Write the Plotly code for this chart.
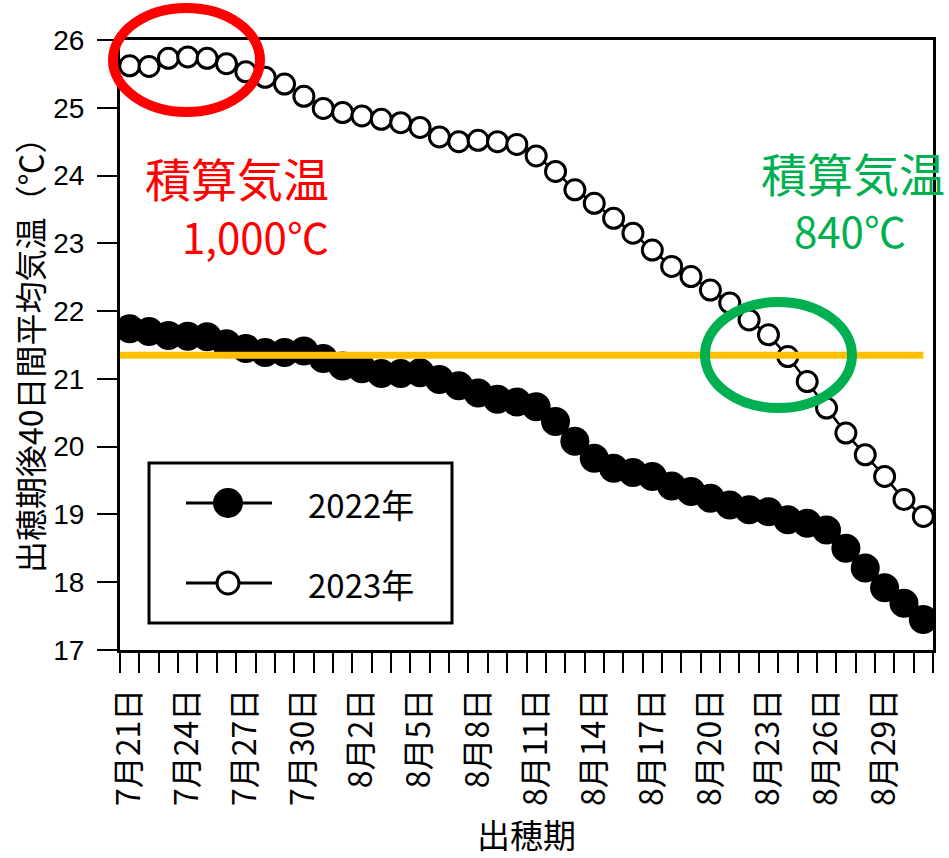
import plotly.graph_objects as go

# ---------------- data ----------------
dates = ["7月21日", "7月22日", "7月23日", "7月24日", "7月25日", "7月26日", "7月27日",
         "7月28日", "7月29日", "7月30日", "7月31日", "8月1日", "8月2日", "8月3日",
         "8月4日", "8月5日", "8月6日", "8月7日", "8月8日", "8月9日", "8月10日",
         "8月11日", "8月12日", "8月13日", "8月14日", "8月15日", "8月16日", "8月17日",
         "8月18日", "8月19日", "8月20日", "8月21日", "8月22日", "8月23日", "8月24日",
         "8月25日", "8月26日", "8月27日", "8月28日", "8月29日", "8月30日", "8月31日"]

tick_labels = ["7月21日", "7月24日", "7月27日", "7月30日", "8月2日", "8月5日", "8月8日",
               "8月11日", "8月14日", "8月17日", "8月20日", "8月23日", "8月26日", "8月29日"]

temp_2022 = [21.74, 21.70, 21.64, 21.63, 21.62, 21.52, 21.45, 21.39, 21.39, 21.41,
             21.30, 21.19, 21.15, 21.08, 21.08, 21.09, 20.99, 20.90, 20.79, 20.70,
             20.66, 20.59, 20.37, 20.08, 19.83, 19.68, 19.62, 19.56, 19.42, 19.34,
             19.24, 19.14, 19.07, 19.04, 18.92, 18.87, 18.77, 18.50, 18.21, 17.92,
             17.69, 17.45]

temp_2023 = [25.62, 25.61, 25.73, 25.75, 25.73, 25.65, 25.53, 25.45, 25.35, 25.17,
             24.99, 24.93, 24.88, 24.83, 24.78, 24.71, 24.57, 24.50, 24.52, 24.50,
             24.46, 24.29, 24.06, 23.79, 23.59, 23.37, 23.15, 22.90, 22.66, 22.51,
             22.31, 22.12, 21.87, 21.65, 21.33, 20.96, 20.57, 20.20, 19.88, 19.56,
             19.22, 18.97]

series_names = ["2022年", "2023年"]
threshold = 21.35
y_ticks = [17, 18, 19, 20, 21, 22, 23, 24, 25, 26]

x_title = "出穂期"
y_title = "出穂期後40日間平均気温（℃）"
note_label = "積算気温"
note_red = "1,000℃"
note_green = "840℃"

# ---------------- layout geometry ----------------
W, H = 949, 858
ML, MR, MT, MB = 120, 16, 40, 208
PW = W - ML - MR
PH = H - MT - MB
JP = "Noto Sans CJK JP"


def px(x):
    return (x - ML) / PW


def py(y):
    return (H - MB - y) / PH


fig = go.Figure()

fig.add_trace(go.Scatter(
    x=dates, y=temp_2022, name=series_names[0], mode="lines+markers",
    line=dict(color="black", width=3),
    marker=dict(size=29, color="black", line=dict(width=0)),
    showlegend=False,
))
fig.add_trace(go.Scatter(
    x=dates, y=temp_2023, name=series_names[1], mode="lines+markers",
    line=dict(color="black", width=2.5),
    marker=dict(size=20, color="white", line=dict(color="black", width=3)),
    showlegend=False,
))

ticktext = [d if d in tick_labels else "" for d in dates]

shapes = [
    # threshold line
    dict(type="line", xref="x", yref="y", x0=-0.5, x1=len(dates) - 1,
         y0=threshold, y1=threshold, line=dict(color="#FFC000", width=7), layer="above"),
    # red ellipse
    dict(type="circle", xref="paper", yref="paper",
         x0=px(113), x1=px(260), y0=py(112), y1=py(8),
         line=dict(color="#FF0000", width=10), layer="above"),
    # green ellipse
    dict(type="circle", xref="paper", yref="paper",
         x0=px(705), x1=px(852), y0=py(408), y1=py(302),
         line=dict(color="#00B050", width=10), layer="above"),
    # legend box
    dict(type="rect", xref="paper", yref="paper",
         x0=px(149), x1=px(452), y0=py(623), y1=py(463),
         line=dict(color="black", width=3), fillcolor="white", layer="above"),
    dict(type="line", xref="paper", yref="paper",
         x0=px(186), x1=px(272), y0=py(503), y1=py(503),
         line=dict(color="black", width=3), layer="above"),
    dict(type="line", xref="paper", yref="paper",
         x0=px(186), x1=px(272), y0=py(583), y1=py(583),
         line=dict(color="black", width=3), layer="above"),
    dict(type="circle", xref="paper", yref="paper",
         x0=px(213), x1=px(243), y0=py(518), y1=py(488),
         line=dict(color="black", width=0), fillcolor="black", layer="above"),
    dict(type="circle", xref="paper", yref="paper",
         x0=px(217), x1=px(239), y0=py(594), y1=py(572),
         line=dict(color="black", width=3), fillcolor="white", layer="above"),
]

annotations = [
    dict(text=y_title, xref="paper", yref="paper", x=px(29), y=py(347),
         xanchor="center", yanchor="middle", textangle=-90, showarrow=False,
         font=dict(family=JP, size=32, color="black")),
    dict(text=note_label, xref="paper", yref="paper", x=px(331), y=py(177),
         xanchor="right", yanchor="middle", showarrow=False,
         font=dict(family=JP, size=46, color="#FF0000")),
    dict(text=note_red, xref="paper", yref="paper", x=px(331), y=py(235),
         xanchor="right", yanchor="middle", showarrow=False,
         font=dict(family=JP, size=42, color="#FF0000")),
    dict(text=note_label, xref="paper", yref="paper", x=px(853), y=py(172),
         xanchor="center", yanchor="middle", showarrow=False,
         font=dict(family=JP, size=46, color="#00B050")),
    dict(text=note_green, xref="paper", yref="paper", x=px(850), y=py(229),
         xanchor="center", yanchor="middle", showarrow=False,
         font=dict(family=JP, size=42, color="#00B050")),
    dict(text=series_names[0], xref="paper", yref="paper", x=px(306), y=py(504),
         xanchor="left", yanchor="middle", showarrow=False,
         font=dict(family=JP, size=33, color="black")),
    dict(text=series_names[1], xref="paper", yref="paper", x=px(306), y=py(584),
         xanchor="left", yanchor="middle", showarrow=False,
         font=dict(family=JP, size=33, color="black")),
]

fig.update_layout(
    width=W, height=H,
    margin=dict(l=ML, r=MR, t=MT, b=MB, autoexpand=False),
    paper_bgcolor="white", plot_bgcolor="white",
    showlegend=False,
    shapes=shapes, annotations=annotations,
    xaxis=dict(
        type="category", range=[-0.5, len(dates) - 0.5],
        tickmode="array", tickvals=dates, ticktext=ticktext,
        tickson="boundaries", ticks="outside", ticklen=20, tickwidth=2, tickcolor="black",
        tickangle=-90, ticklabelstandoff=23,
        tickfont=dict(family=JP, size=32, color="black"),
        showline=True, linewidth=3, linecolor="black", mirror=True,
        showgrid=False, zeroline=False, automargin=False,
        title=dict(text=x_title, font=dict(family=JP, size=33, color="black"), standoff=24),
    ),
    yaxis=dict(
        range=[17, 26], tickmode="array", tickvals=y_ticks,
        ticks="outside", ticklen=20, tickwidth=2, tickcolor="black",
        ticklabelstandoff=7,
        tickfont=dict(family="Liberation Sans, Arial", size=28, color="black"),
        showline=True, linewidth=3, linecolor="black", mirror=True,
        showgrid=False, zeroline=False, automargin=False,
    ),
)

fig.write_html("out.html")
